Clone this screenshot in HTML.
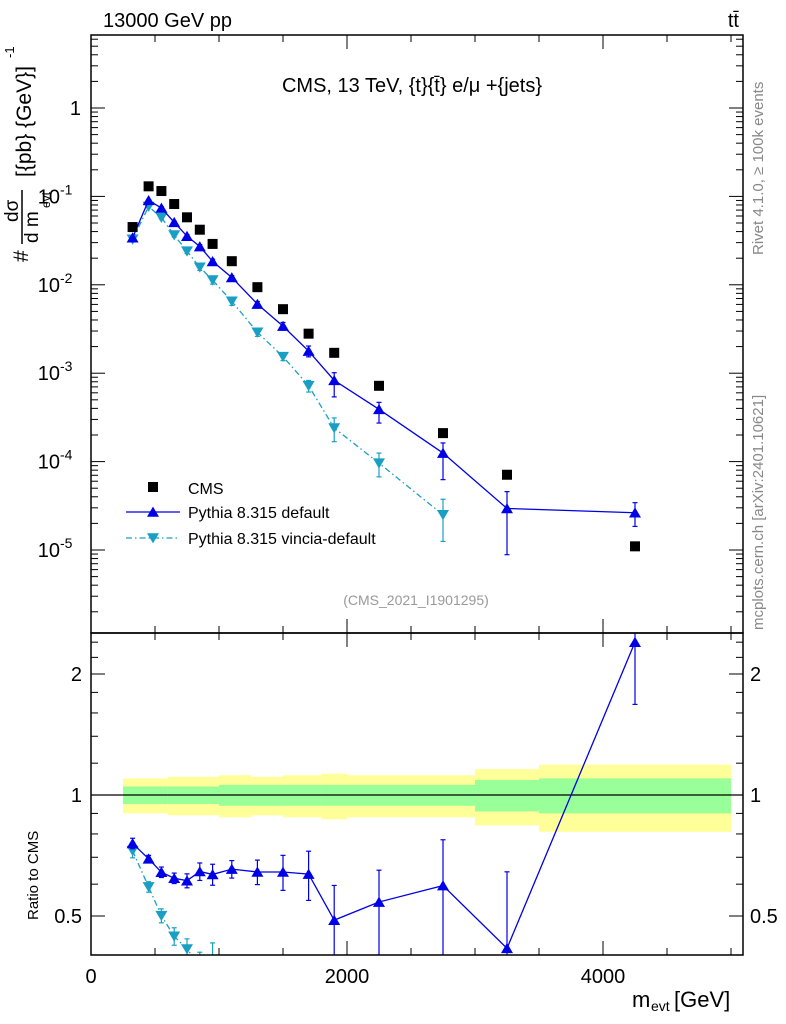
<!DOCTYPE html>
<html><head><meta charset="utf-8"><style>
html,body{margin:0;padding:0;background:#fff;overflow:hidden;width:786px;height:1024px;}
svg{display:block;}
svg text{font-family:"Liberation Sans",sans-serif;}
</style></head><body>
<svg id="c" width="786" height="1024" viewBox="0 0 786 1024" xmlns="http://www.w3.org/2000/svg"></svg>
<script>
const xCenters=[325,450,550,650,750,850,950,1100,1300,1500,1700,1900,2250,2750,3250,4250];
const cmsValues=[0.045,0.13,0.115,0.082,0.058,0.042,0.029,0.0185,0.0094,0.0053,0.0028,0.0017,0.00072,0.00021,0.000071,0.000011];
const defaultValues=[0.0341,0.0902,0.0739,0.0509,0.0355,0.0271,0.0184,0.0121,0.00605,0.00341,0.00178,0.00083,0.00039,0.000125,0.0000295,0.0000264];
const defaultErrUp=[0.03,0.02,0.03,0.03,0.04,0.05,0.06,0.05,0.07,0.1,0.14,0.22,0.2,0.3,0.55,0.3];
const defaultErrDn=[0.03,0.02,0.03,0.03,0.04,0.05,0.06,0.05,0.07,0.1,0.14,0.35,0.3,0.5,0.7,0.3];
const vinciaValues=[0.0327,0.0768,0.0576,0.0365,0.024,0.0158,0.0113,0.0065,0.0029,0.00154,0.00072,0.00024,0.000096,0.000025];
const vinciaErr=[0.04,0.03,0.04,0.05,0.06,0.08,0.1,0.1,0.1,0.1,0.15,0.3,0.3,0.5];
const bandEdges=[250,600,1000,1250,1500,1800,2000,2500,3000,3500,5000];
const bandGreen=[0.05,0.05,0.06,0.06,0.06,0.06,0.06,0.06,0.09,0.1];
const bandYellow=[0.1,0.11,0.12,0.11,0.12,0.13,0.12,0.12,0.16,0.19];
const xTickLabels=[0,2000,4000];

const svg=document.getElementById('c');
const NS='http://www.w3.org/2000/svg';
const L=91,R=743,T1=35,B1=633,B2=955;
const X=v=>L+v*0.128;
const Y1=v=>108-Math.log10(v)*88.4;
const Y2=v=>795-Math.log2(v)*121;
function el(tag,attrs,parent){const e=document.createElementNS(NS,tag);for(const k in attrs)e.setAttribute(k,attrs[k]);(parent||svg).appendChild(e);return e;}
function txt(x,y,s,size,anchor,parent,extra){const t=el('text',Object.assign({x:x,y:y,'font-size':size,'text-anchor':anchor||'start',fill:'#000'},extra||{}),parent);t.textContent=s;return t;}

const defs=el('defs',{});
const c1=el('clipPath',{id:'cp1'},defs);el('rect',{x:L,y:T1,width:R-L,height:B1-T1},c1);
const c2=el('clipPath',{id:'cp2'},defs);el('rect',{x:L,y:B1,width:R-L,height:B2-B1},c2);

const bands=el('g',{'clip-path':'url(#cp2)'});


for(let i=0;i<bandGreen.length;i++){
  const x0=X(bandEdges[i]),x1=X(bandEdges[i+1]);
  el('rect',{x:x0,y:Y2(1+bandYellow[i]),width:x1-x0,height:Y2(1-bandYellow[i])-Y2(1+bandYellow[i]),fill:'#ffff99'},bands);
}
for(let i=0;i<bandGreen.length;i++){
  const x0=X(bandEdges[i]),x1=X(bandEdges[i+1]);
  el('rect',{x:x0,y:Y2(1+bandGreen[i]),width:x1-x0,height:Y2(1-bandGreen[i])-Y2(1+bandGreen[i]),fill:'#99ff99'},bands);
}
el('line',{x1:L,x2:R,y1:Y2(1),y2:Y2(1),stroke:'#000','stroke-width':1.2});

function tri(g,x,y,down,color){
  const s=6;
  const p=down?`${x-s},${y-s*0.8} ${x+s},${y-s*0.8} ${x},${y+s*0.9}`:`${x-s},${y+s*0.8} ${x+s},${y+s*0.8} ${x},${y-s*0.9}`;
  return el('polygon',{points:p,fill:color},g);
}
function series(vals,eu,ed,color,down,dash,Yf,clip,name,ratio){
  const g=el('g',{'clip-path':clip});
  
  
  const pts=vals.map((v,i)=>{const r=ratio?v/cmsValues[i]:v;return [X(xCenters[i]),Yf(r),r];});
  el('polyline',{points:pts.map(p=>p[0]+','+p[1]).join(' '),fill:'none',stroke:color,'stroke-width':1.3,'stroke-dasharray':dash||''},g);
  pts.forEach((p,i)=>{
    const yu=Yf(p[2]*(1+eu[i])),yd=Yf(p[2]*Math.max(0.05,1-ed[i]));
    el('line',{x1:p[0],x2:p[0],y1:yu,y2:yd,stroke:color,'stroke-width':1.2},g);
    el('line',{x1:p[0]-2.5,x2:p[0]+2.5,y1:yu,y2:yu,stroke:color,'stroke-width':1.2},g);
    el('line',{x1:p[0]-2.5,x2:p[0]+2.5,y1:yd,y2:yd,stroke:color,'stroke-width':1.2},g);
    tri(g,p[0],p[1],down,color);
  });
}
const vincCol='#1a9fc4',defCol='#0000e6';
series(vinciaValues,vinciaErr,vinciaErr,vincCol,true,'6,3,1.5,3',Y1,'url(#cp1)','vincia-series');
series(defaultValues,defaultErrUp,defaultErrDn,defCol,false,'',Y1,'url(#cp1)','pythia-default-series');
series(vinciaValues,vinciaErr,vinciaErr,vincCol,true,'6,3,1.5,3',Y2,'url(#cp2)','vincia-ratio',true);
series(defaultValues,defaultErrUp,defaultErrDn,defCol,false,'',Y2,'url(#cp2)','pythia-default-ratio',true);
const cg=el('g',{'clip-path':'url(#cp1)'});


cmsValues.forEach((v,i)=>{el('rect',{x:X(xCenters[i])-5,y:Y1(v)-5,width:10,height:10,fill:'#000'},cg);});

el('rect',{x:L,y:T1,width:R-L,height:B1-T1,fill:'none',stroke:'#000','stroke-width':1.5});
el('rect',{x:L,y:B1,width:R-L,height:B2-B1,fill:'none',stroke:'#000','stroke-width':1.5});
for(let v=0;v<=5000;v+=500){
  const x=X(v),big=v%2000===0,len=big?14:7;
  if(x>R)break;
  [[T1,1],[B1,-1],[B1,1],[B2,-1]].forEach(([y,d])=>el('line',{x1:x,x2:x,y1:y,y2:y+d*len,stroke:'#000','stroke-width':1}));
}
xTickLabels.forEach(v=>{const t=txt(X(v),983,String(v),20,'middle');});
for(let e=-6;e<=1;e++){for(let m=1;m<10;m++){const v=m*Math.pow(10,e);const y=Y1(v);if(y<T1||y>B1)continue;const len=m===1?14:7;
  el('line',{x1:L,x2:L+len,y1:y,y2:y,stroke:'#000'});el('line',{x1:R,x2:R-len,y1:y,y2:y,stroke:'#000'});}}
[0.4,0.5,0.6,0.7,0.8,0.9,1,1.2,1.4,1.6,1.8,2,2.2,2.4].forEach(v=>{const y=Y2(v);if(y<B1||y>B2)return;const len=(v===0.5||v===1||v===2)?14:7;
  el('line',{x1:L,x2:L+len,y1:y,y2:y,stroke:'#000'});el('line',{x1:R,x2:R-len,y1:y,y2:y,stroke:'#000'});});
[['0.5',0.5],['1',1],['2',2]].forEach(([s,v])=>{txt(82,Y2(v)+7,s,20,'end');txt(750,Y2(v)+7,s,20,'start');});

const yg=el('g',{});
const g1=el('text',{transform:'translate(28,262) rotate(-90)','font-size':21},yg);g1.textContent='#';
const g2=el('text',{transform:'translate(18,222) rotate(-90)','font-size':19},yg);g2.textContent='dσ';
el('line',{x1:22,x2:22,y1:244,y2:190,stroke:'#000','stroke-width':1.5},yg);
const g3=el('text',{transform:'translate(38,243) rotate(-90)','font-size':19},yg);g3.textContent='d m';
const g4=el('text',{transform:'translate(50,208) rotate(-90)','font-size':12},yg);g4.textContent='evt';
const g5=el('text',{transform:'translate(31,177) rotate(-90)','font-size':21},yg);g5.textContent='[{pb} {GeV}]';
const g6=el('text',{transform:'translate(14,58) rotate(-90)','font-size':13},yg);g6.textContent='-1';

[0,-1,-2,-3,-4,-5].forEach(e=>{const y=Y1(Math.pow(10,e))+7;
  if(e===0){txt(81,y,'1',20,'end');return;}
  const t=txt(60,y,'10',20,'end');
  txt(60,y-9,String(e),14,'start');
});

txt(103,27,'13000 GeV pp',20,'start',null,{});
txt(739,27,'tt̄',20,'end');
txt(412,92,'CMS, 13 TeV, {t}{t̄} e/μ +{jets}',20,'middle',null,{});
txt(416,605,'(CMS_2021_I1901295)',14,'middle',null,{fill:'#999'});
txt(632,1007,'m',22,'start');txt(651,1011,'evt',14,'start');txt(674,1007,'[GeV]',22,'start');
const rt=el('text',{transform:'translate(38,920) rotate(-90)','font-size':15});rt.textContent='Ratio to CMS';
const s1=el('text',{transform:'translate(763,255) rotate(-90)','font-size':15,fill:'#888'});s1.textContent='Rivet 4.1.0, ≥ 100k events';
const s2=el('text',{transform:'translate(763,630) rotate(-90)','font-size':15,fill:'#888'});s2.textContent='mcplots.cern.ch [arXiv:2401.10621]';
const lg=el('g',{});
el('rect',{x:148,y:482,width:10,height:10,fill:'#000'},lg);txt(188,494,'CMS',16,'start',lg);
el('line',{x1:126,x2:180,y1:512,y2:512,stroke:defCol,'stroke-width':1.3},lg);tri(lg,153,512,false,defCol);txt(188,518,'Pythia 8.315 default',16,'start',lg);
el('line',{x1:126,x2:180,y1:538,y2:538,stroke:vincCol,'stroke-width':1.3,'stroke-dasharray':'6,3,1.5,3'},lg);tri(lg,153,538,true,vincCol);txt(188,544,'Pythia 8.315 vincia-default',16,'start',lg);
</script>
</body></html>
